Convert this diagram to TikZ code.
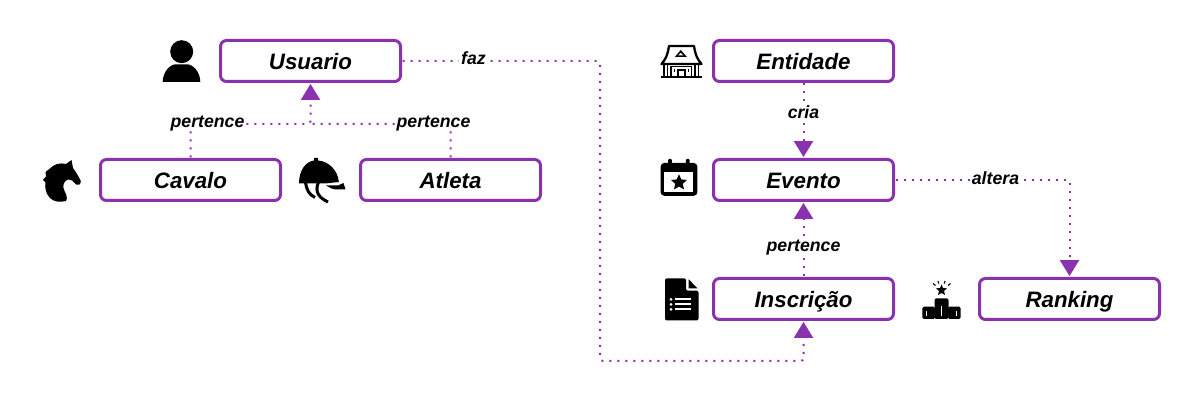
\documentclass[tikz,border=0pt]{standalone}
\usepackage{fontspec}
\setmainfont{Liberation Sans}
\usetikzlibrary{arrows.meta}
\definecolor{purp}{HTML}{8A32AE}
\tikzset{
  entity/.style={draw=purp,line width=3pt,rounded corners=6pt,minimum width=180pt,minimum height=41pt,inner sep=0pt,outer sep=0pt,fill=white,text height=18pt,text depth=0pt,font=\fontsize{22.3pt}{24pt}\selectfont\bfseries\itshape},
  rel/.style={fill=white,inner xsep=2pt,inner ysep=1pt,text height=13pt,text depth=0pt,font=\fontsize{17.7pt}{20pt}\selectfont\bfseries\itshape},
  link/.style={draw=purp,line width=2pt,dash pattern=on 2pt off 6pt,dash phase=6pt,rounded corners=3pt},
  head/.style={-{Triangle[length=16pt,width=19pt,sep=0pt]},shorten >=2.4pt},
}
\begin{document}
\begin{tikzpicture}[x=1pt,y=-1pt]
\useasboundingbox (0,0) rectangle (1200,403);
% nodes
\node[entity] (usuario) at (310.5,61) {Usuario};
\node[entity] (cavalo) at (190.5,180) {Cavalo};
\node[entity] (atleta) at (450.5,180) {Atleta};
\node[entity] (entidade) at (803.5,61) {Entidade};
\node[entity] (evento) at (803.5,180) {Evento};
\node[entity] (inscricao) at (803.5,299) {Inscrição};
\node[entity] (ranking) at (1069.5,299) {Ranking};
% junctions
\coordinate (jc) at (190.5,124);
\coordinate (ja) at (450.5,124);
\coordinate (jm) at (310.5,124);
\coordinate (jf) at (600,61);
\coordinate (jg) at (600,361);
\coordinate (jh) at (803.5,361);
\coordinate (jr) at (1069.5,180);
% connectors
\draw[link,head] (cavalo.north) -- (jc) -- (jm) -- (usuario.south);
\draw[link] (atleta.north) -- (ja) -- (jm);
\draw[link,head] (usuario.east) -- (jf) -- (jg) -- (jh) -- (inscricao.south);
\draw[link,head] (entidade.south) -- (evento.north);
\draw[link,head] (inscricao.north) -- (evento.south);
\draw[link,head] (evento.east) -- (jr) -- (ranking.north);
% labels
\node[rel] (l1) at (207.5,121.2) {pertence};
\node[rel] (l2) at (433.5,121.2) {pertence};
\node[rel] (l3) at (473.5,58.3) {faz};
\node[rel] (l4) at (803.5,111.8) {cria};
\node[rel] (l5) at (803.5,245) {pertence};
\node[rel] (l6) at (995.5,177.8) {altera};
% person
\fill (181.7,51.7) circle (11.5);
\fill (162.7,82) .. controls (162.7,72) and (170,64.3) .. (176,64.3) -- (187,64.3) .. controls (193,64.3) and (200.3,72) .. (200.3,82) -- cycle;
% horse
\fill (71.5,160) -- (73,168) .. controls (76,172) and (79,177) .. (80.8,181) .. controls (81,184.5) and (78,186) .. (76,184.5)
 .. controls (73,181) and (71,179) .. (68,179.5) .. controls (63.5,181) and (62,186) .. (64.5,191) .. controls (66,194) and (68,198) .. (66,201)
 .. controls (60,202.5) and (54,202) .. (50,198) .. controls (46,194) and (44.5,188) .. (45.5,182) -- (42.8,180) -- (46,176.5) -- (45.5,172) -- (50,168.5)
 .. controls (54,164) and (60,162.5) .. (66,164) -- cycle;
% helmet
\fill (299,183.3) .. controls (299,170) and (306,161.5) .. (314,160.5) -- (314,158) -- (318,158) -- (318,160.5) .. controls (328,161) and (338,170) .. (338.8,182) -- (327,183.3) -- cycle;
\fill (326,185.5) -- (338,185.5) -- (343.5,183) -- (345.5,189.5) -- (336,189.5) .. controls (332,189) and (329,187.5) .. (326,185.5) -- cycle;
\draw[line width=3pt] (305.5,182) .. controls (306.5,190) and (309,194.5) .. (315,197.5);
\draw[line width=3pt] (318.5,182) .. controls (314,193) and (320,198) .. (328,202);
% building
\draw[line width=2.3pt,line join=round] (661.5,64) .. controls (665,60) and (667.5,56) .. (669,46) -- (694,46) .. controls (695.5,56) and (698,60) .. (701.5,64) -- cycle;
\fill (680.7,50) -- (686.8,56.8) -- (675,56.8) -- cycle;
\fill[white] (680.7,52.8) -- (683.3,55.4) -- (678.3,55.4) -- cycle;
\draw[line width=2pt] (660.5,76.6) -- (702,76.6);
\foreach \x in {664,667.5,695,698.5}{\draw[line width=1.8pt] (\x,64) -- (\x,76);}
\draw[line width=1.8pt] (671,66.5) -- (691.5,66.5) -- (691.5,76) (671,66.5) -- (671,76);
\draw[line width=1.8pt] (678,76) -- (678,70) -- (685,70) -- (685,76);
\fill (673.5,69) rectangle (675.2,72);
\fill (687.5,69) rectangle (689.2,72);
% calendar
\fill[rounded corners=3.5pt] (660.7,163) rectangle (697.3,195.8);
\fill[white] (664.4,171.7) rectangle (693.3,191.8);
\fill[rounded corners=1pt] (668.2,159) rectangle (671.8,166);
\fill[rounded corners=1pt] (685.9,159) rectangle (689.5,166);
\fill (679,174.3) -- (681.3,179.4) -- (687,180) -- (682.8,183.8) -- (684,189.4) -- (679,186.6) -- (674,189.4) -- (675.2,183.8) -- (671,180) -- (676.7,179.4) -- cycle;
% document
\fill[rounded corners=2pt] (665,278.3) -- (686,278.3) -- (686,290.7) -- (698.5,290.7) -- (698.5,320.5) -- (665,320.5) -- cycle;
\fill (688.7,279.3) -- (697.3,288.3) -- (688.7,288.3) -- cycle;
\foreach \y in {299.3,304.3,309.3}{
  \fill[white] (671,\y) circle (1.5);
  \fill[white] (675,{\y-1.2}) rectangle (690.5,{\y+1.2});
}
% podium
\fill[rounded corners=1.5pt] (922.3,319) -- (922.3,306.7) -- (935,306.7) -- (935,319) -- cycle;
\fill[rounded corners=1.5pt] (948,319) -- (948,306.7) -- (960.7,306.7) -- (960.7,319) -- cycle;
\fill[rounded corners=2pt] (934.5,319) -- (934.5,298.3) -- (948.5,298.3) -- (948.5,319) -- cycle;
\fill[white] (926,311) rectangle (927.3,316);
\fill[white] (940.9,306) rectangle (942.2,316);
\fill[white] (955.7,311) rectangle (957,316);
\fill (941.5,284.5) -- (943,288) -- (947,288.4) -- (944,291) -- (945,295) -- (941.5,293) -- (938,295) -- (939,291) -- (936,288.4) -- (940,288) -- cycle;
\draw[line width=1.1pt] (933,283.5) -- (935.5,285.5) (938,281) -- (938.8,283.5) (945,281) -- (944.2,283.5) (950.5,283.5) -- (948,285.5);
\end{tikzpicture}
\end{document}
